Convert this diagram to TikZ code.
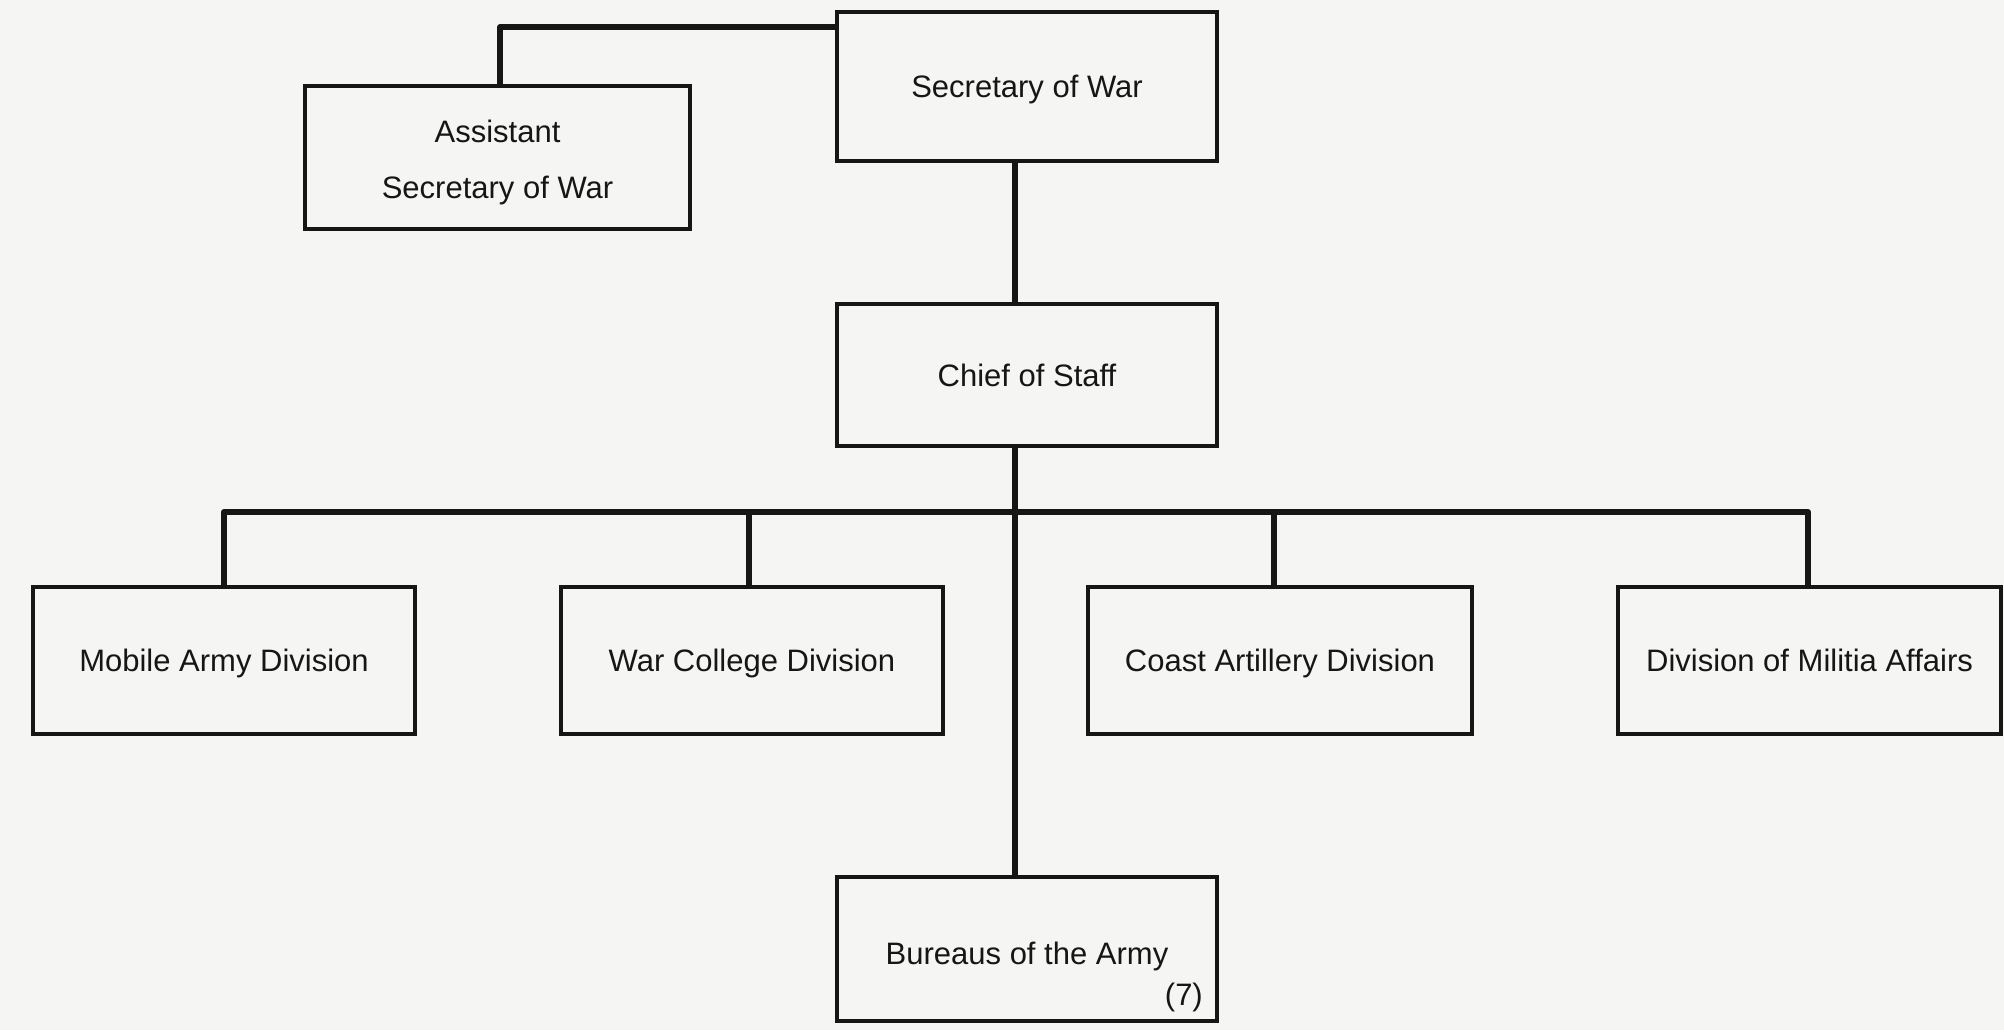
\documentclass[tikz,border=0pt]{standalone}
\usepackage{fontspec}
\setmainfont{Liberation Sans}
\usetikzlibrary{calc}
\definecolor{paper}{RGB}{245,245,243}
\definecolor{ink}{RGB}{22,22,22}
\begin{document}
\begin{tikzpicture}[x=1pt,y=-1pt,
  office/.style={draw=ink, line width=3.5pt, rectangle, inner sep=0pt,
    align=center, text=ink, font=\fontsize{31}{56}\selectfont},
  oneline/.style={text height=24pt, text depth=2pt},
  link/.style={draw=ink, line width=6pt, line join=round}]
% paper
\fill[paper] (0,0) rectangle (2004,1030);
\useasboundingbox (0,0) rectangle (2004,1030);

% offices
\node[office, oneline, minimum width=380pt, minimum height=149pt] (secwar) at (1027,86.5) {Secretary of War};
\node[office, minimum width=385pt, minimum height=143pt] (asst) at (497.5,157.5) {\rule{0pt}{32.5pt}Assistant\\Secretary of War};
\node[office, oneline, minimum width=380pt, minimum height=142pt] (chief) at (1027,375) {Chief of Staff};
\node[office, oneline, minimum width=382pt, minimum height=147pt] (mobile) at (224,660.5) {Mobile Army Division};
\node[office, oneline, minimum width=382pt, minimum height=147pt] (warcol) at (752,660.5) {War College Division};
\node[office, oneline, minimum width=384pt, minimum height=147pt] (coast) at (1280,660.5) {Coast Artillery Division};
\node[office, oneline, minimum width=383pt, minimum height=147pt] (militia) at (1809.5,660.5) {Division of Militia Affairs};
\node[office, text height=31pt, text depth=1pt, minimum width=380pt, minimum height=144pt] (bureaus) at (1027,949) {Bureaus of the Army};
\node[anchor=east, inner sep=0pt, text=ink, font=\fontsize{31}{36}\selectfont] (seven) at (1203,997) {(7)};

% line of authority
\coordinate (sp) at (1015,512);
\coordinate (wc) at ($(warcol.north)+(-3,0)$);
\coordinate (ca) at ($(coast.north)+(-6,0)$);
\coordinate (ml) at ($(militia.north)+(-1.5,0)$);

\draw[link] ($(asst.north)+(2.5,0)$) |- ($(secwar.north west)+(0,17)$);
\draw[link] (secwar.south -| sp) -- (chief.north -| sp);
\draw[link] (chief.south -| sp) -- (bureaus.north -| sp);
\draw[link] (mobile.north) -- (mobile.north |- sp) -- (ml |- sp) -- (ml);
\draw[link] (wc) -- (wc |- sp);
\draw[link] (ca) -- (ca |- sp);
\end{tikzpicture}
\end{document}
